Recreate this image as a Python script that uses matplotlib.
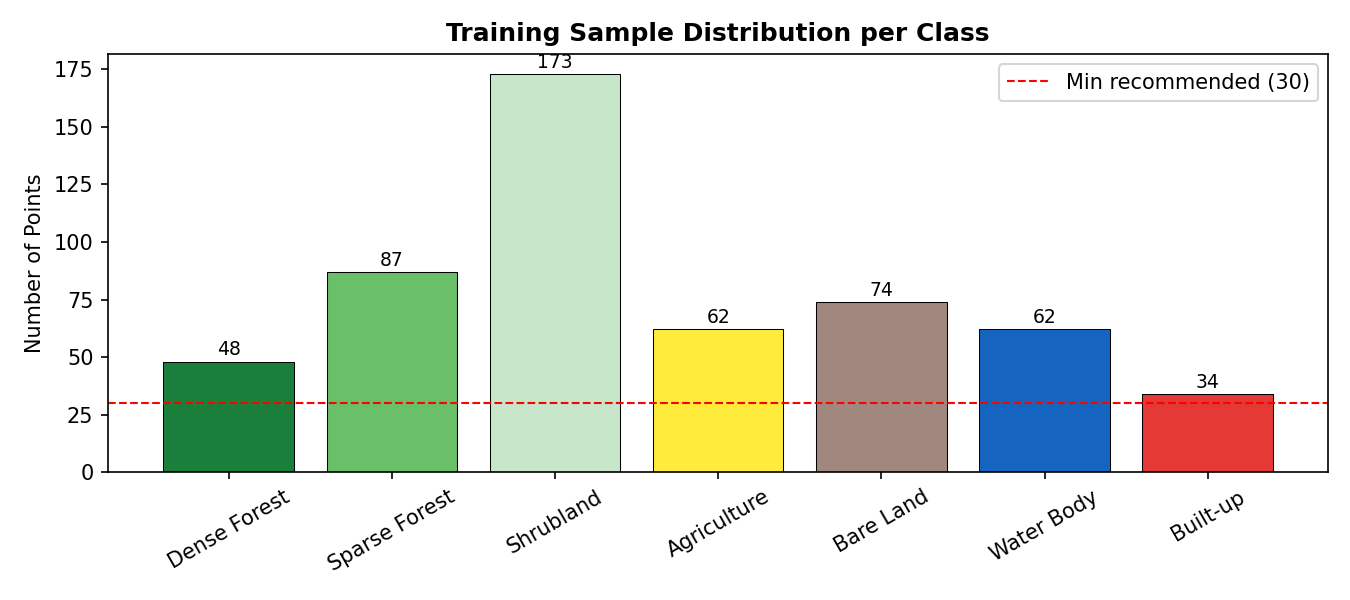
import matplotlib
matplotlib.use("Agg")
import matplotlib.pyplot as plt

classes = ["Dense Forest", "Sparse Forest", "Shrubland", "Agriculture", "Bare Land", "Water Body", "Built-up"]
counts = [48, 87, 173, 62, 74, 62, 34]
colors = ["#1B7F3C", "#6ABF69", "#C8E6C9", "#FFEB3B", "#A1887F", "#1565C0", "#E53935"]
min_rec = 30

fig, ax = plt.subplots(figsize=(9, 4), dpi=150)
fig.subplots_adjust(left=0.08, right=0.984, top=0.91, bottom=0.213)
bars = ax.bar(classes, counts, color=colors, edgecolor="black", linewidth=0.5)
for b, v in zip(bars, counts):
    ax.text(b.get_x() + b.get_width() / 2, v + 1, str(v), ha="center", va="bottom", fontsize=9)
ax.axhline(min_rec, color="red", linestyle="--", linewidth=1, label="Min recommended (30)")
ax.set_ylim(0, max(counts) * 1.05)
ax.set_ylabel("Number of Points")
ax.set_title("Training Sample Distribution per Class", fontweight="bold")
plt.setp(ax.get_xticklabels(), rotation=30)
ax.legend(loc="upper right")
fig.savefig("out.png")
